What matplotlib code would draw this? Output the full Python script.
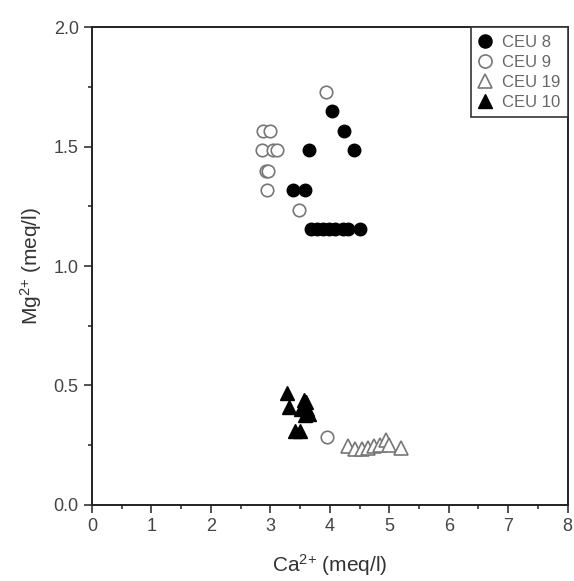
import matplotlib
matplotlib.use("Agg")
import matplotlib.pyplot as plt
from matplotlib.ticker import MultipleLocator, FormatStrFormatter

plt.rcParams['font.family'] = ['Liberation Sans', 'DejaVu Sans']
plt.rcParams['mathtext.fontset'] = 'custom'
plt.rcParams['mathtext.rm'] = 'Liberation Sans'
plt.rcParams['mathtext.it'] = 'Liberation Sans'

# Ca2+ / Mg2+ concentrations (meq/l) per sampling site
ceu8_ca = [4.03, 4.24, 3.65, 4.40, 3.38, 3.59, 3.68, 3.78, 3.88, 3.98, 4.08, 4.22, 4.30, 4.50]
ceu8_mg = [1.65, 1.565, 1.485, 1.485, 1.32, 1.32, 1.155, 1.155, 1.155, 1.155, 1.155, 1.155, 1.155, 1.155]

ceu9_ca = [3.94, 2.87, 3.00, 2.86, 3.05, 3.12, 2.93, 2.97, 2.94, 3.48, 3.96]
ceu9_mg = [1.73, 1.565, 1.565, 1.485, 1.485, 1.485, 1.40, 1.40, 1.32, 1.235, 0.285]

ceu19_ca = [4.30, 4.42, 4.55, 4.65, 4.75, 4.85, 4.95, 5.00, 5.20]
ceu19_mg = [0.245, 0.235, 0.235, 0.24, 0.245, 0.25, 0.27, 0.25, 0.24]

ceu10_ca = [3.28, 3.32, 3.42, 3.50, 3.52, 3.57, 3.60, 3.62, 3.65, 3.58]
ceu10_mg = [0.47, 0.41, 0.31, 0.31, 0.40, 0.44, 0.43, 0.40, 0.38, 0.375]

fig = plt.figure(figsize=(5.74, 5.81), dpi=100)
ax = fig.add_axes([0.160, 0.131, 0.829, 0.822])

ms = 9
ax.plot(ceu8_ca, ceu8_mg, 'o', ms=ms, mfc='black', mec='black', label='CEU 8')
ax.plot(ceu9_ca, ceu9_mg, 'o', ms=ms, mfc='white', mec='#777777', mew=1.2, label='CEU 9')
ax.plot(ceu19_ca, ceu19_mg, '^', ms=ms + 1, mfc='white', mec='#777777', mew=1.2, label='CEU 19')
ax.plot(ceu10_ca, ceu10_mg, '^', ms=ms + 1, mfc='black', mec='black', label='CEU 10')

ax.set_xlim(0, 8)
ax.set_ylim(0, 2.0)
ax.xaxis.set_major_locator(MultipleLocator(1))
ax.xaxis.set_minor_locator(MultipleLocator(0.5))
ax.yaxis.set_major_locator(MultipleLocator(0.5))
ax.yaxis.set_minor_locator(MultipleLocator(0.25))
ax.yaxis.set_major_formatter(FormatStrFormatter('%.1f'))

ax.tick_params(which='major', direction='out', length=6, width=1.2, labelsize=13,
               colors='#333333', labelcolor='#444444')
ax.tick_params(which='minor', direction='out', length=3, width=1.2, colors='#333333')

for s in ax.spines.values():
    s.set_linewidth(1.4)
    s.set_color('#222222')

ax.set_xlabel(r'Ca$^{2{+}}$ (meq/l)', fontsize=15, color='#333333', labelpad=12)
ax.set_ylabel(r'Mg$^{2{+}}$ (meq/l)', fontsize=15, color='#333333', labelpad=7)

leg = ax.legend(loc='upper right', bbox_to_anchor=(1.0, 1.0), borderaxespad=0,
                fancybox=False, edgecolor='#333333', framealpha=1,
                handlelength=0.8, handletextpad=0.6, labelspacing=0.3,
                borderpad=0.45, fontsize=12, labelcolor='#666666', markerscale=1.05)
leg.get_frame().set_linewidth(1.2)

fig.savefig('out.png', dpi=100)
